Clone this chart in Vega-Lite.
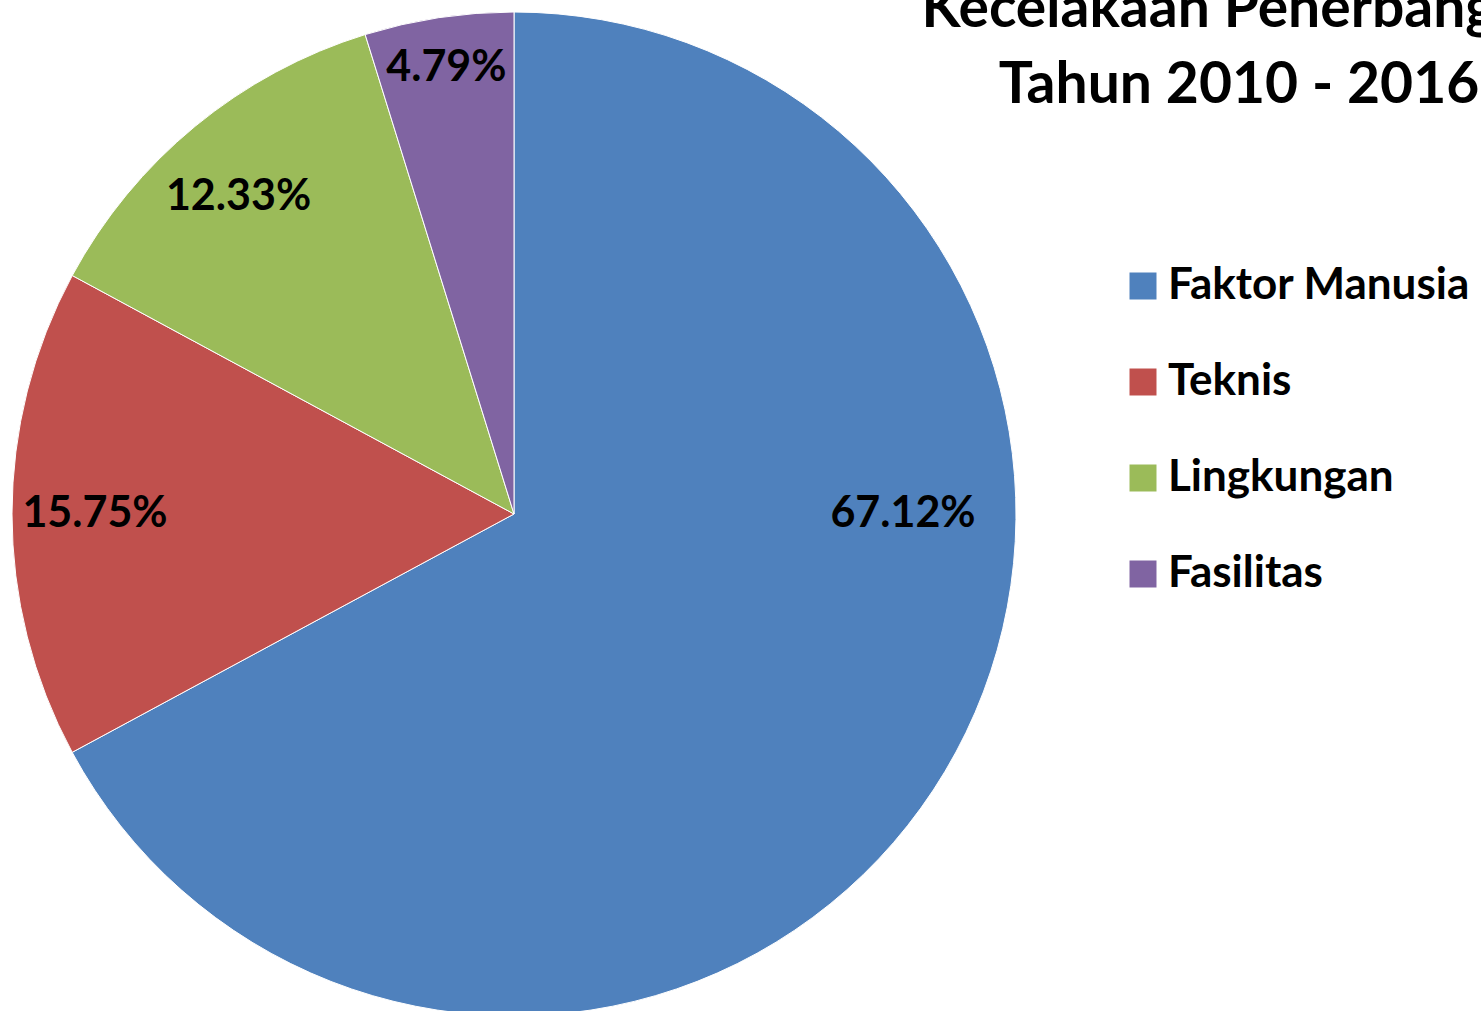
{
  "$schema": "https://vega.github.io/schema/vega-lite/v6.json",
  "width": 1028,
  "height": 1028,
  "autosize": {"type": "none"},
  "padding": {"left": 0, "top": 0, "right": 453, "bottom": 0},
  "background": "white",
  "title": {
    "text": ["Kecelakaan Penerbangan", "Tahun 2010 - 2016"],
    "orient": "top",
    "frame": "group",
    "anchor": "middle",
    "align": "center",
    "baseline": "alphabetic",
    "dx": 725,
    "dy": 164,
    "font": "Lato",
    "fontSize": 57,
    "fontWeight": "bold",
    "color": "#000000",
    "lineHeight": 76
  },
  "data": {
    "values": [
      {"cause": "Faktor Manusia", "value": 67.12, "label": "67.12%", "order": 1},
      {"cause": "Teknis", "value": 15.75, "label": "15.75%", "order": 2},
      {"cause": "Lingkungan", "value": 12.33, "label": "12.33%", "order": 3},
      {"cause": "Fasilitas", "value": 4.79, "label": "4.79%", "order": 4}
    ]
  },
  "encoding": {
    "theta": {"field": "value", "type": "quantitative", "stack": true},
    "order": {"field": "order", "type": "quantitative"}
  },
  "layer": [
    {
      "mark": {"type": "arc", "outerRadius": 502, "stroke": "white", "strokeWidth": 1},
      "encoding": {
        "color": {
          "field": "cause",
          "type": "nominal",
          "sort": ["Faktor Manusia", "Teknis", "Lingkungan", "Fasilitas"],
          "scale": {
            "domain": ["Faktor Manusia", "Teknis", "Lingkungan", "Fasilitas"],
            "range": ["#4F81BD", "#C0504D", "#9BBB59", "#8064A2"]
          },
          "legend": {
            "title": null,
            "orient": "none",
            "legendX": 1121,
            "legendY": 264,
            "symbolType": "square",
            "symbolSize": 729,
            "symbolStrokeWidth": 0,
            "labelFont": "Lato",
            "labelFontSize": 44,
            "labelFontWeight": "bold",
            "labelColor": "#000000",
            "labelOffset": 3,
            "rowPadding": 52,
            "labelLimit": 600
          }
        }
      }
    },
    {
      "mark": {"type": "text", "radius": 419, "font": "Lato", "fontSize": 43, "fontWeight": "bold", "color": "#000000"},
      "encoding": {
        "text": {
          "condition": {"test": "datum.cause === 'Teknis'", "field": "label"},
          "value": ""
        }
      }
    },
    {
      "mark": {"type": "text", "radius": 420, "thetaOffset": -0.027, "font": "Lato", "fontSize": 43, "fontWeight": "bold", "color": "#000000"},
      "encoding": {
        "text": {
          "condition": {"test": "datum.cause === 'Lingkungan'", "field": "label"},
          "value": ""
        }
      }
    },
    {
      "mark": {"type": "text", "radius": 451, "font": "Lato", "fontSize": 43, "fontWeight": "bold", "color": "#000000"},
      "encoding": {
        "text": {
          "condition": {"test": "datum.cause === 'Fasilitas'", "field": "label"},
          "value": ""
        }
      }
    },
    {
      "mark": {"type": "text", "radius": 389, "thetaOffset": -0.538, "font": "Lato", "fontSize": 43, "fontWeight": "bold", "color": "#000000"},
      "encoding": {
        "text": {
          "condition": {"test": "datum.cause === 'Faktor Manusia'", "field": "label"},
          "value": ""
        }
      }
    }
  ]
}
